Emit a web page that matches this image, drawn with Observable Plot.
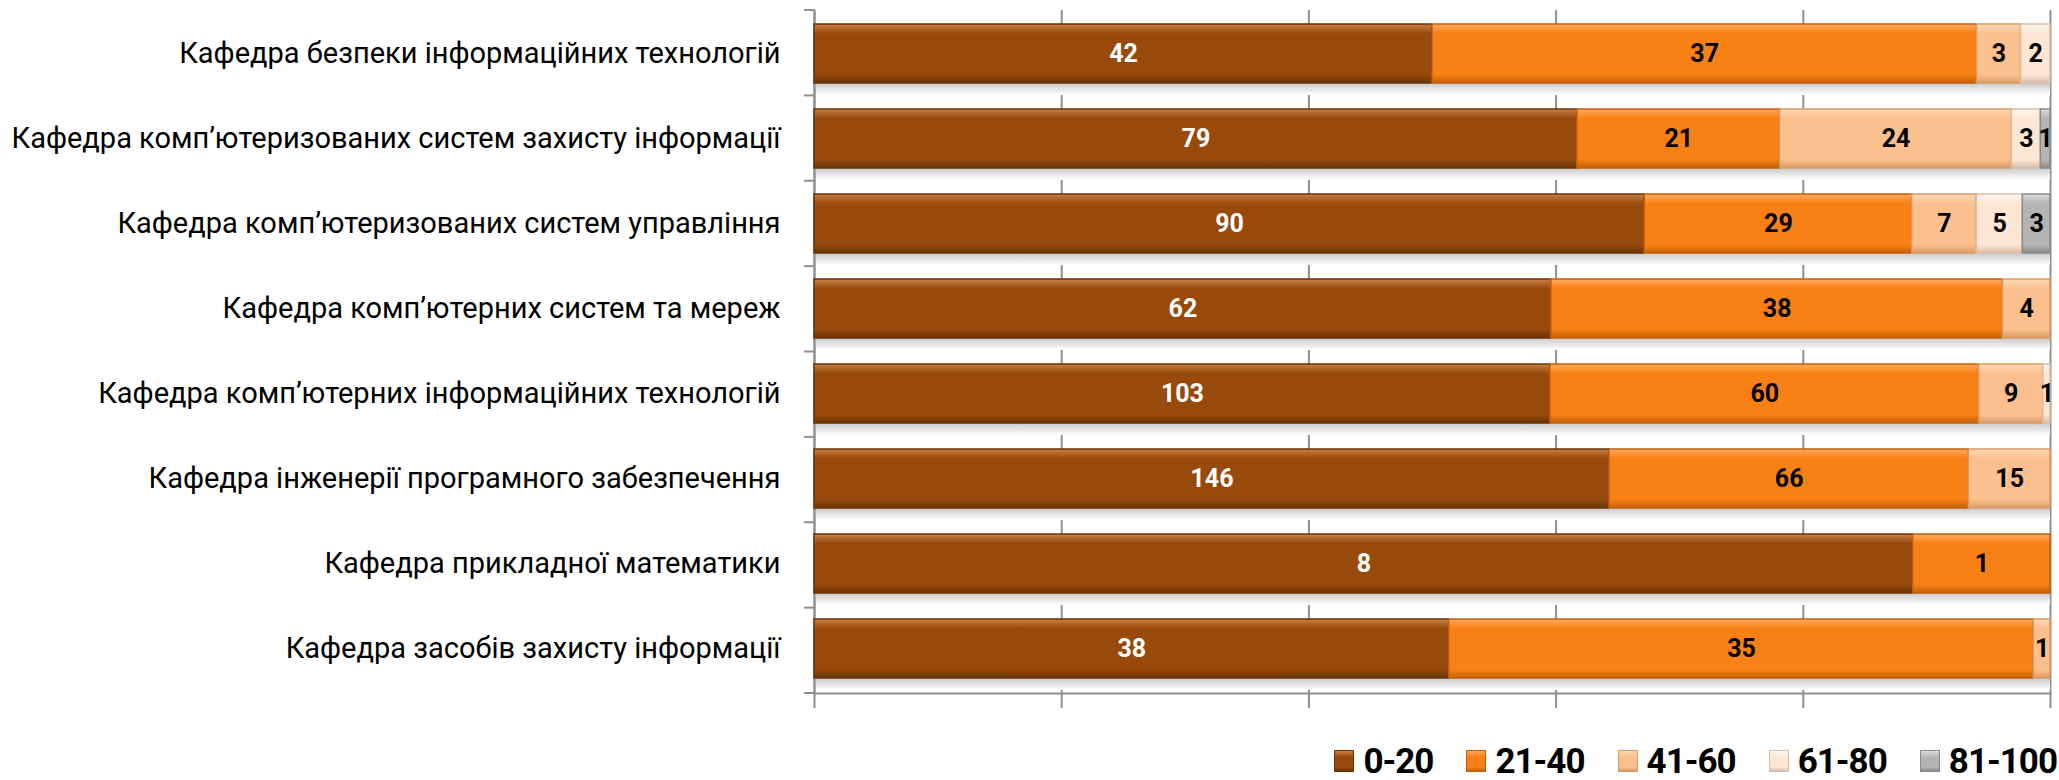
<!DOCTYPE html>
<html>
<head>
<meta charset="utf-8">
<script src="https://cdn.jsdelivr.net/npm/d3@7"></script>
<script src="https://cdn.jsdelivr.net/npm/@observablehq/plot@0.6"></script>
<style>
  html, body { margin: 0; padding: 0; background: #fff; }
  #chart { width: 2059px; }
  #legend { width: 2059px; height: 60px; display: flex; justify-content: flex-end; align-items: center; box-sizing: border-box; padding-right: 2px; padding-top: 22px;
    font-family: Roboto, "Noto Sans", sans-serif; font-weight: 700; font-size: 35px; color: #000; letter-spacing: -1px; }
  .item { display: flex; align-items: center; margin-left: 33px; }
  .sw { width: 20px; height: 22px; margin-right: 9px; box-sizing: border-box; }
</style>
</head>
<body>
<div id="chart"></div>
<div id="legend"></div>
<script>
const departments = [
  "Кафедра безпеки інформаційних технологій",
  "Кафедра комп’ютеризованих систем захисту інформації",
  "Кафедра комп’ютеризованих систем управління",
  "Кафедра комп’ютерних систем та мереж",
  "Кафедра комп’ютерних інформаційних технологій",
  "Кафедра інженерії програмного забезпечення",
  "Кафедра прикладної математики",
  "Кафедра засобів захисту інформації"
];
const ranges = ["0-20", "21-40", "41-60", "61-80", "81-100"];
const s0_20   = [42, 79, 90, 62, 103, 146, 8, 38];
const s21_40  = [37, 21, 29, 38, 60, 66, 1, 35];
const s41_60  = [3, 24, 7, 4, 9, 15, 0, 1];
const s61_80  = [2, 3, 5, 0, 1, 0, 0, 0];
const s81_100 = [0, 1, 3, 0, 0, 0, 0, 0];
const colors = ["#974a0b", "#f98014", "#fbc08e", "#fde6d4", "#b4b4b4"];
const edge   = ["#6a3306", "#c45f08", "#d99b66", "#d8bda8", "#8a8a8a"];
const light  = ["#c9824a", "#ffab60", "#fdd9b8", "#fff7ef", "#dcdcdc"];

const series = [s0_20, s21_40, s41_60, s61_80, s81_100];
const rows = [];
departments.forEach((d, i) => {
  series.forEach((s, k) => {
    if (s[i] > 0) rows.push({dept: d, range: ranges[k], k, value: s[i]});
  });
});

const ids = ranges.map((r, k) => "g" + k);

const chart = Plot.plot({
  width: 2059,
  height: 720,
  marginLeft: 814,
  marginRight: 9,
  marginTop: 10,
  marginBottom: 27,
  style: {fontFamily: "Roboto, 'Noto Sans', sans-serif", background: "#fff"},
  x: {domain: [0, 1], axis: null, label: null},
  y: {domain: departments, padding: 0.3, paddingOuter: 0.15, axis: null, label: null},
  marks: [
    Plot.gridX({ticks: [0, 0.2, 0.4, 0.6, 0.8, 1], stroke: "#8f8f8f", strokeOpacity: 1, strokeWidth: 2}),
    Plot.axisX({ticks: [0, 0.2, 0.4, 0.6, 0.8, 1], tickSize: 15, tickFormat: () => "", label: null, stroke: "#8f8f8f", strokeWidth: 2}),
    Plot.frame({anchor: "bottom", stroke: "#8f8f8f", strokeWidth: 2}),
    Plot.frame({anchor: "left", stroke: "#8f8f8f", strokeWidth: 2}),
    // left ticks at band boundaries
    (index, scales, values, dims) => {
      const g = d3.create("svg:g").attr("stroke", "#8f8f8f").attr("stroke-width", 2);
      const top = dims.marginTop, bot = dims.height - dims.marginBottom;
      const n = departments.length;
      for (let i = 0; i <= n; i++) {
        const y = top + (bot - top) * i / n;
        g.append("line").attr("x1", dims.marginLeft - 10).attr("x2", dims.marginLeft).attr("y1", y).attr("y2", y);
      }
      return g.node();
    },
    Plot.axisY({tickSize: 0, tickPadding: 34, fontSize: 29, fill: "#000", label: null}),
    // shadow beneath bars
    Plot.barX(departments, {y: d => d, x1: 0, x2: 1, fill: "url(#shadow)", dy: 12, insetLeft: 2}),
    Plot.barX(rows, Plot.stackX({
      x: "value", y: "dept", z: "k", offset: "normalize",
      fill: d => `url(#${ids[d.k]})`,
      stroke: d => edge[d.k], strokeWidth: 1.5
    })),
    Plot.text(rows, Plot.stackX({
      x: "value", y: "dept", z: "k", offset: "normalize",
      text: d => String(d.value),
      fill: d => d.k === 0 ? "#ffffff" : "#000000",
      fontWeight: "bold", fontSize: 25
    }))
  ]
});

// gradients for bevel look
const svg = d3.select(chart);
const defs = svg.insert("defs", ":first-child");
colors.forEach((c, k) => {
  const lg = defs.append("linearGradient").attr("id", ids[k]).attr("x1", 0).attr("y1", 0).attr("x2", 0).attr("y2", 1);
  lg.append("stop").attr("offset", "0%").attr("stop-color", light[k]);
  lg.append("stop").attr("offset", "16%").attr("stop-color", c);
  lg.append("stop").attr("offset", "86%").attr("stop-color", c);
  lg.append("stop").attr("offset", "100%").attr("stop-color", edge[k]);
});
const sh = defs.append("linearGradient").attr("id", "shadow").attr("x1", 0).attr("y1", 0).attr("x2", 0).attr("y2", 1);
sh.append("stop").attr("offset", "75%").attr("stop-color", "#bdbdbd");
sh.append("stop").attr("offset", "100%").attr("stop-color", "#ffffff");

document.getElementById("chart").appendChild(chart);

const legend = document.getElementById("legend");
ranges.forEach((r, k) => {
  const item = document.createElement("div");
  item.className = "item";
  const sw = document.createElement("div");
  sw.className = "sw";
  sw.style.background = `linear-gradient(${light[k]} 0%, ${colors[k]} 30%, ${colors[k]} 80%, ${edge[k]} 100%)`;
  sw.style.border = `1px solid ${edge[k]}`;
  const t = document.createElement("span");
  t.textContent = r;
  item.appendChild(sw);
  item.appendChild(t);
  legend.appendChild(item);
});
</script>
</body>
</html>
